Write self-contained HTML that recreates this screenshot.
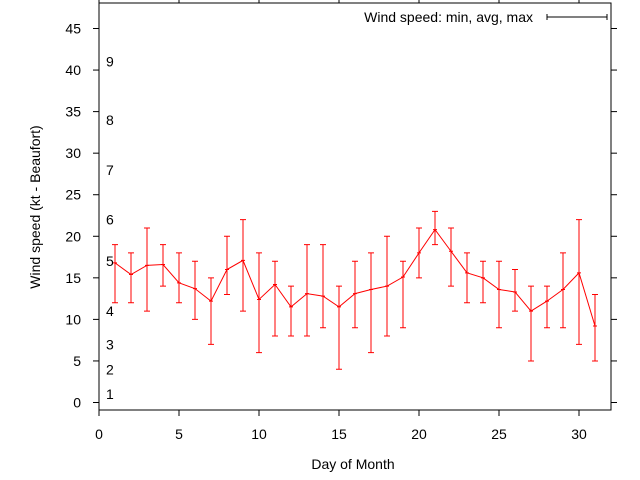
<!DOCTYPE html>
<html><head><meta charset="utf-8"><style>
body{margin:0;background:#fff}
svg{display:block;font-family:"Liberation Sans",sans-serif;font-size:14px}
</style></head><body>
<svg id="c" width="640" height="480"></svg>
<script>
const days=[1,2,3,4,5,6,7,8,9,10,11,12,13,14,15,16,17,18,19,20,21,22,23,24,25,26,27,28,29,30,31];
const minV=[12,12,11,14,12,10,7,13,11,6,8,8,8,9,4,9,6,8,9,15,19,14,12,12,9,11,5,9,9,7,5];
const avgV=[16.8,15.4,16.5,16.6,14.4,13.7,12.2,16.0,17.1,12.4,14.2,11.5,13.1,12.8,11.5,13.1,13.6,14.0,15.1,18.0,20.8,18.2,15.6,15.0,13.6,13.3,11.0,12.2,13.6,15.6,9.2];
const maxV=[19,18,21,19,18,17,15,20,22,18,17,14,19,19,14,17,18,20,17,21,23,21,18,17,17,16,14,14,18,22,13];
const xTicks=[0,5,10,15,20,25,30];
const yTicks=[0,5,10,15,20,25,30,35,40,45];
const bftLabels=["1","2","3","4","5","6","7","8","9"];
const bftPos=[1,4,7,11,17,22,28,34,41];
const L=99,R=611,T=3,B=410;
const X=v=>L+v*(R-L)/32;
const Y=v=>402.5-v*(402.5-28.5)/45;
const s=document.getElementById('c');const NS='http://www.w3.org/2000/svg';
function mk(t,a,p){const e=document.createElementNS(NS,t);for(const k in a)e.setAttribute(k,a[k]);(p||s).appendChild(e);return e;}
const frame=mk('rect',{x:L,y:T,width:R-L,height:B-T,fill:'none',stroke:'#000','stroke-width':1});


xTicks.forEach(v=>{const x=X(v);
 mk('line',{x1:x,y1:B,x2:x,y2:B+6,stroke:'#000'});
 mk('line',{x1:x,y1:T,x2:x,y2:T-6,stroke:'#000'});
 const t=mk('text',{x:x,y:439,'text-anchor':'middle'});t.textContent=v;
 
 });
yTicks.forEach(v=>{const y=Y(v);
 mk('line',{x1:L-6,y1:y,x2:L,y2:y,stroke:'#000'});
 mk('line',{x1:R,y1:y,x2:R+6,y2:y,stroke:'#000'});
 const t=mk('text',{x:81,y:y+5,'text-anchor':'end'});t.textContent=v;
 
 });
bftLabels.forEach((l,i)=>{const t=mk('text',{x:106,y:Y(bftPos[i])+5});t.textContent=l;
 
 });
const xl=mk('text',{x:353,y:469,'text-anchor':'middle'});xl.textContent='Day of Month';


const yl=mk('text',{x:0,y:0,'text-anchor':'middle',transform:'translate(40,207) rotate(-90)'});yl.textContent='Wind speed (kt - Beaufort)';


const g=mk('g',{stroke:'#f00',fill:'none'});


days.forEach((d,i)=>{const x=X(d);
 const bar=mk('path',{d:`M${x},${Y(minV[i])}V${Y(maxV[i])}M${x-3},${Y(minV[i])}h6M${x-3},${Y(maxV[i])}h6M${x-2},${Y(avgV[i])}h4`},g);
 
 });
const ln=mk('polyline',{points:days.map((d,i)=>X(d)+','+Y(avgV[i])).join(' ')},g);


const lt=mk('text',{x:533,y:22,'text-anchor':'end'});lt.textContent='Wind speed: min, avg, max';


const ls=mk('path',{d:'M547,17h60M547,14v6M607,14v6',stroke:'#000',fill:'none'});


</script>
</body></html>
